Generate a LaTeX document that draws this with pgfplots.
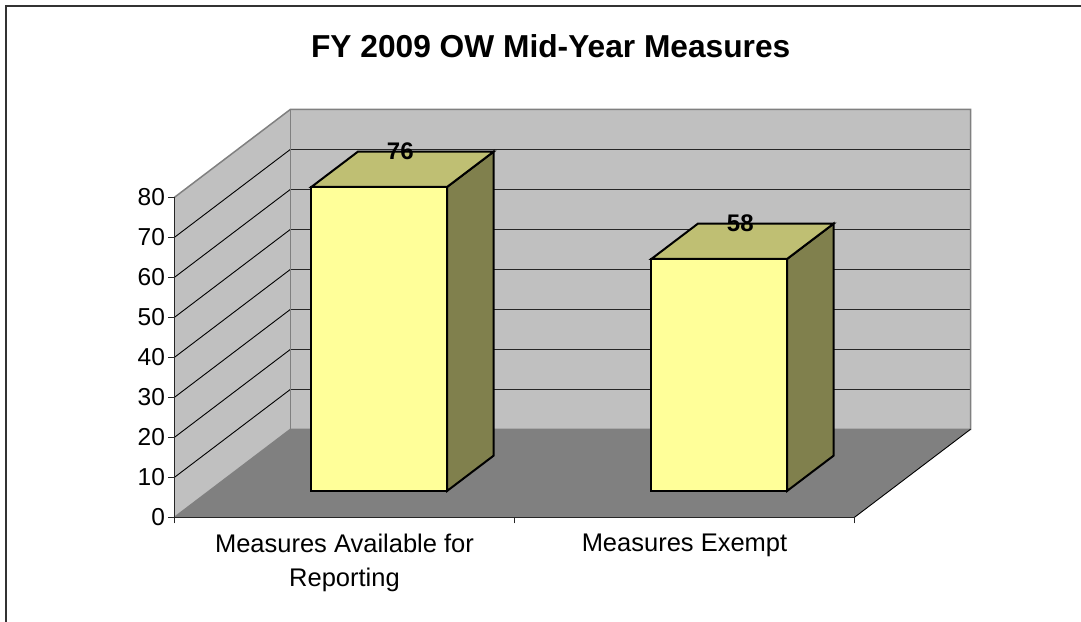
\documentclass[border=0pt]{standalone}
\usepackage{pgfplots}
\pgfplotsset{compat=1.18}
\usepackage{pgfplotstable}
\usepackage{fontspec}
\setmainfont{Liberation Sans}

\definecolor{wallgray}{HTML}{C0C0C0}
\definecolor{floorgray}{HTML}{808080}
\definecolor{edgegray}{HTML}{808080}
\definecolor{barfront}{HTML}{FFFF99}
\definecolor{bartop}{HTML}{BFBF73}
\definecolor{barside}{HTML}{80804D}

\tikzset{barlabel/.style={font=\fontsize{24}{28}\selectfont\bfseries},
  barface/.style={draw=black, line width=2pt, line join=miter}}

\pgfplotstableread{
x y
0.5 76
1.5 58
}\bardata

\begin{document}
\begin{tikzpicture}
\begin{axis}[
  x=340pt, y=4pt,
  xmin=0, xmax=2, ymin=0, ymax=80,
  clip=false,
  axis on top,
  axis x line*=bottom, axis y line*=left,
  axis line style={black!85, line width=1pt},
  xtick={0,1,2},
  xticklabels={{Measures Available for\\Reporting},{Measures Exempt}},
  x tick label as interval,
  ytick={0,10,...,80},
  tick align=outside,
  major tick length=6pt,
  tick style={black!85, line width=1pt},
  /pgf/number format/assume math mode=true,
  yticklabel style={font=\fontsize{24.5}{28}\selectfont},
  xticklabel style={font=\fontsize{25.5}{33.7}\selectfont, align=center, yshift=-7pt},
]
% outer frame and page box
\coordinate (bbBL) at (axis cs:-0.51324,-26.175);
\coordinate (bbTR) at (axis cs:2.66618,129.325);
\draw[line width=2pt, black!80] (axis cs:-0.4965,-40) -- (axis cs:-0.4965,127.9) -- (axis cs:3,127.9);
% back wall
\fill[wallgray] (axis cs:0.3412,22) -- (axis cs:2.3412,22) -- (axis cs:2.3412,102) -- (axis cs:0.3412,102) -- cycle;
% left wall
\fill[wallgray] (axis cs:0,0) -- (axis cs:0.3412,22) -- (axis cs:0.3412,102) -- (axis cs:0,80) -- cycle;
% gridlines
\draw[black!85, line width=1pt]
  (axis cs:0.3412,32) -- (axis cs:2.3412,32)
  (axis cs:0.3412,42) -- (axis cs:2.3412,42)
  (axis cs:0.3412,52) -- (axis cs:2.3412,52)
  (axis cs:0.3412,62) -- (axis cs:2.3412,62)
  (axis cs:0.3412,72) -- (axis cs:2.3412,72)
  (axis cs:0.3412,82) -- (axis cs:2.3412,82)
  (axis cs:0.3412,92) -- (axis cs:2.3412,92);
\draw[black, line width=0.9pt]
  (axis cs:0,10) -- (axis cs:0.3412,32)
  (axis cs:0,20) -- (axis cs:0.3412,42)
  (axis cs:0,30) -- (axis cs:0.3412,52)
  (axis cs:0,40) -- (axis cs:0.3412,62)
  (axis cs:0,50) -- (axis cs:0.3412,72)
  (axis cs:0,60) -- (axis cs:0.3412,82)
  (axis cs:0,70) -- (axis cs:0.3412,92);
% floor
\fill[floorgray] (axis cs:0,0) -- (axis cs:2,0) -- (axis cs:2.3412,22) -- (axis cs:0.3412,22) -- cycle;
% wall edges
\draw[edgegray, line width=1.5pt] (axis cs:0,80) -- (axis cs:0.3412,102) -- (axis cs:2.3412,102) -- (axis cs:2.3412,22) -- (axis cs:0.3412,22) -- (axis cs:0,0);
\draw[edgegray, line width=1.5pt] (axis cs:0.3412,22) -- (axis cs:0.3412,102);
\draw[black, line width=0.9pt] (axis cs:2,0) -- (axis cs:2.3412,22);
% bars: front face at depth 0.3, back at depth 0.7, width 0.4 category
\pgfplotsinvokeforeach{0,1}{%
  \pgfplotstablegetelem{#1}{x}\of\bardata \let\bx\pgfplotsretval
  \pgfplotstablegetelem{#1}{y}\of\bardata \let\bv\pgfplotsretval
  \pgfmathsetmacro\xl{\bx-0.0972}%
  \pgfmathsetmacro\xr{\bx+0.3019}%
  \pgfmathsetmacro\xbr{\bx+0.4384}%
  \pgfmathsetmacro\xbl{\bx+0.0393}%
  \pgfmathsetmacro\yf{\bv+6.6}%
  \pgfmathsetmacro\yb{\bv+15.4}%
  \pgfmathsetmacro\lx{\bx+0.164}%
  \pgfmathsetmacro\ly{\bv+15.5}%
  \edef\drawbar{%
    \noexpand\addplot[barface, fill=barside] coordinates {(\xr,6.6) (\xbr,15.4) (\xbr,\yb) (\xr,\yf)} -- cycle;
    \noexpand\addplot[barface, fill=bartop] coordinates {(\xl,\yf) (\xr,\yf) (\xbr,\yb) (\xbl,\yb)} -- cycle;
    \noexpand\addplot[barface, fill=barfront] coordinates {(\xl,6.6) (\xr,6.6) (\xr,\yf) (\xl,\yf)} -- cycle;
    \noexpand\node[barlabel] at (axis cs:\lx,\ly) {\bv};
  }%
  \drawbar
}
% title
\node[font=\fontsize{31.7}{36}\selectfont\bfseries, anchor=base] at (axis cs:1.1065,114.9) {FY 2009 OW Mid-Year Measures};
\end{axis}
\pgfresetboundingbox
\useasboundingbox (bbBL) rectangle (bbTR);
\end{tikzpicture}
\end{document}
